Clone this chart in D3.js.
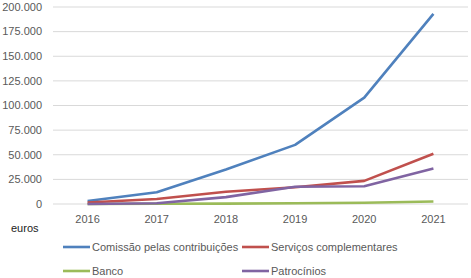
<!DOCTYPE html>
<html><head><meta charset="utf-8">
<script src="https://cdn.jsdelivr.net/npm/d3@7"></script>
<style>body{margin:0;background:#fff}svg{display:block}text{font-family:"Liberation Sans",Arial,sans-serif}</style>
</head><body><svg id="c" width="471" height="278"></svg>
<script>
const years = ["2016","2017","2018","2019","2020","2021"];
const comissao = [3000, 12000, 35000, 60000, 108000, 193000];
const servicos = [1500, 5000, 12500, 17000, 23500, 51000];
const banco = [0, 200, 400, 700, 1200, 2500];
const patrocinios = [0, 700, 7000, 17500, 18000, 36000];
const yTicks = [0, 25000, 50000, 75000, 100000, 125000, 150000, 175000, 200000];
const seriesNames = ["Comissão pelas contribuições","Serviços complementares","Banco","Patrocínios"];
const colors = ["#4F81BD","#C0504D","#9BBB59","#8064A2"];
const series = [comissao, servicos, banco, patrocinios];

const svg = d3.select("#c");
const x = d3.scaleBand().domain(years).range([53, 468]);
const y = d3.scaleLinear().domain([0, 200000]).range([204, 7]);
const fmt = v => v === 0 ? "0" : d3.format(",")(v).replace(/,/g, ".");

svg.append("g").selectAll("line").data(yTicks).join("line")
  .attr("x1", 53).attr("x2", 468).attr("y1", d => y(d)).attr("y2", d => y(d))
  .attr("stroke", "#d9d9d9").attr("stroke-width", 1);

svg.append("g").selectAll("text").data(yTicks).join("text")
  .attr("x", 42).attr("y", d => y(d)).attr("dy", "0.35em").attr("text-anchor", "end")
  .attr("font-size", 11).attr("fill", "#595959").text(fmt);

svg.append("g").selectAll("text").data(years).join("text")
  .attr("x", d => x(d) + x.bandwidth()/2).attr("y", 223).attr("text-anchor", "middle")
  .attr("font-size", 11).attr("fill", "#595959").text(d => d);

svg.append("text").attr("x", 11).attr("y", 232).attr("font-size", 11).attr("fill", "#222").text("euros");

const line = d3.line().x((d,i) => x(years[i]) + x.bandwidth()/2).y(d => y(d));
[2,0,1,3].forEach(k => {
  svg.append("path").datum(series[k]).attr("d", line).attr("fill", "none")
    .attr("stroke", colors[k]).attr("stroke-width", 2.6).attr("stroke-linejoin", "round");
});

const legPos = [[63,247],[242,247],[63,271],[242,271]];
seriesNames.forEach((n,i) => {
  const [lx, ly] = legPos[i];
  svg.append("line").attr("x1", lx).attr("x2", lx+27).attr("y1", ly).attr("y2", ly)
    .attr("stroke", colors[i]).attr("stroke-width", 2.6);
  svg.append("text").attr("x", lx+29).attr("y", ly).attr("dy", "0.35em")
    .attr("font-size", 11).attr("fill", "#595959").text(n);
});
</script></body></html>
